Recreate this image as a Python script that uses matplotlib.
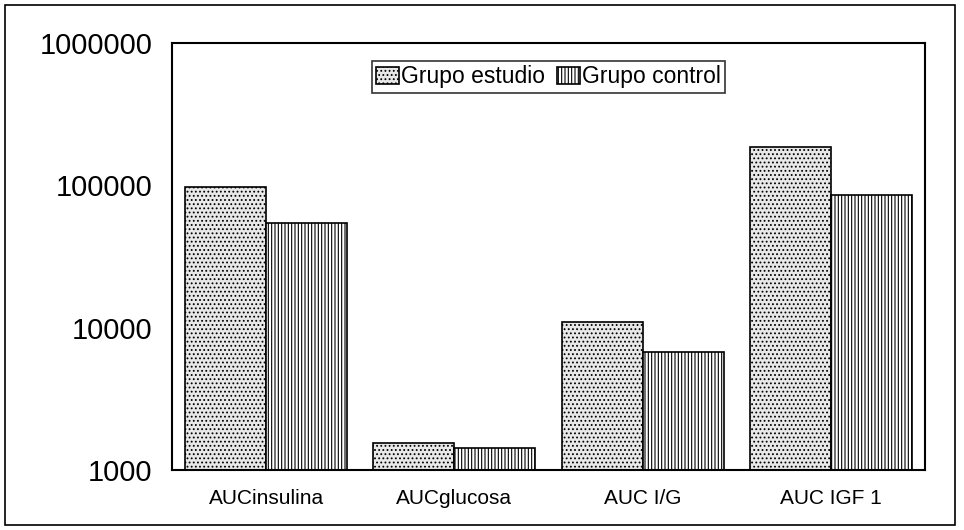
import matplotlib.pyplot as plt
import numpy as np
from matplotlib.patches import Rectangle

plt.rcParams['font.family'] = ['Liberation Sans', 'DejaVu Sans']
plt.rcParams['hatch.linewidth'] = 0.8

categories = ["AUCinsulina", "AUCglucosa", "AUC I/G", "AUC IGF 1"]
estudio = [98000, 1550, 11000, 186000]
control = [54500, 1430, 6800, 86000]

fig = plt.figure(figsize=(9.64, 5.30), dpi=100)
ax = fig.add_axes([172/964, 1 - 470/530, (925-172)/964, (470-43)/530])

x = np.arange(len(categories))
w = 0.43
ax.bar(x - w/2, estudio, w, color="#e8e8e8", edgecolor="black", hatch="....",
       linewidth=1.2, label="Grupo estudio")
ax.bar(x + w/2, control, w, color="white", edgecolor="black", hatch="|||||",
       linewidth=1.2, label="Grupo control")

ax.set_yscale("log")
ax.set_ylim(1000, 1000000)
ax.set_xlim(-0.5, 3.5)
ax.set_yticks([1000, 10000, 100000, 1000000])
ax.set_yticklabels(["1000", "10000", "100000", "1000000"], fontsize=21)
ax.minorticks_off()
ax.set_xticks(x)
ax.set_xticklabels(categories, fontsize=15)
ax.tick_params(axis="x", length=0, pad=14)
ax.tick_params(axis="y", length=0, pad=14)
for s in ax.spines.values():
    s.set_linewidth(1.5)

leg = ax.legend(loc="upper center", ncol=2, fontsize=16.5, frameon=True,
                fancybox=False, edgecolor="black", handlelength=1.0,
                handleheight=0.8, handletextpad=0.1, columnspacing=0.5,
                borderpad=0.2, bbox_to_anchor=(0.5, 0.985))
leg.get_frame().set_linewidth(1.2)

fig.patches.append(Rectangle((5/964, 5/530), 950/964, 520/530, transform=fig.transFigure,
                             fill=False, edgecolor="black", linewidth=1.2))

fig.savefig("out.png", dpi=100)
